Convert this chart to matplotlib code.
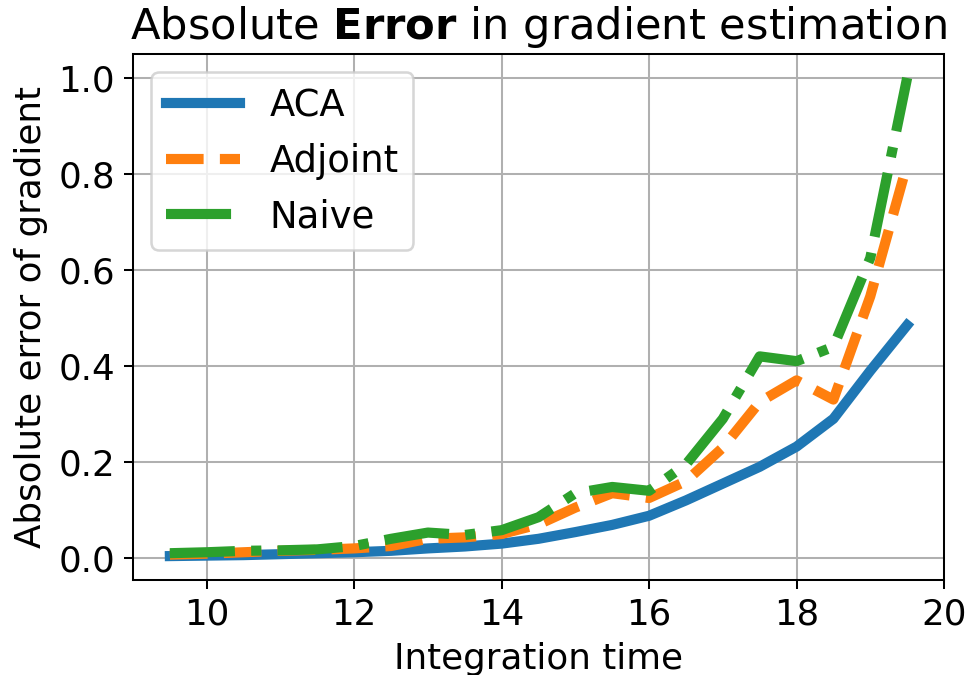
import matplotlib
matplotlib.use("Agg")
import matplotlib.pyplot as plt

# Integration horizons and absolute gradient errors for each method
times = [9.5, 10.0, 10.5, 11.0, 11.5, 12.0, 12.5, 13.0, 13.5, 14.0, 14.5,
         15.0, 15.5, 16.0, 16.5, 17.0, 17.5, 18.0, 18.5, 19.0, 19.5]

err_aca = [0.004, 0.005, 0.006, 0.008, 0.010, 0.012, 0.015, 0.020, 0.024, 0.030, 0.040,
           0.054, 0.069, 0.088, 0.120, 0.155, 0.190, 0.232, 0.290, 0.390, 0.485]

err_adjoint = [0.007, 0.009, 0.012, 0.015, 0.017, 0.020, 0.025, 0.040, 0.043, 0.050, 0.070,
               0.105, 0.135, 0.125, 0.160, 0.230, 0.325, 0.370, 0.330, 0.545, 0.820]

err_naive = [0.010, 0.012, 0.015, 0.016, 0.018, 0.025, 0.040, 0.053, 0.048, 0.058, 0.085,
             0.135, 0.148, 0.140, 0.195, 0.290, 0.420, 0.410, 0.440, 0.625, 1.000]

labels = ["ACA", "Adjoint", "Naive"]

fig = plt.figure(figsize=(970 / 183, 675 / 183), dpi=183)
ax = fig.add_subplot(111)
fig.subplots_adjust(left=133 / 970, right=944 / 970, top=1 - 54 / 675, bottom=1 - 580 / 675)

ax.plot(times, err_aca, "-", lw=4, label=labels[0])
ax.plot(times, err_adjoint, "--", lw=4, label=labels[1])
ax.plot(times, err_naive, "-.", lw=4, label=labels[2])

ax.grid(True)
ax.tick_params(labelsize=14)
ax.set_xticks([10, 12, 14, 16, 18, 20])
ax.set_xlabel("Integration time", fontsize=14)
ax.set_ylabel("Absolute error of gradient", fontsize=14)
ax.set_title(r"Absolute $\bf{Error}$ in gradient estimation", fontsize=17)
ax.legend(fontsize=14.5, loc="upper left")

fig.savefig("out.png", dpi=183)
